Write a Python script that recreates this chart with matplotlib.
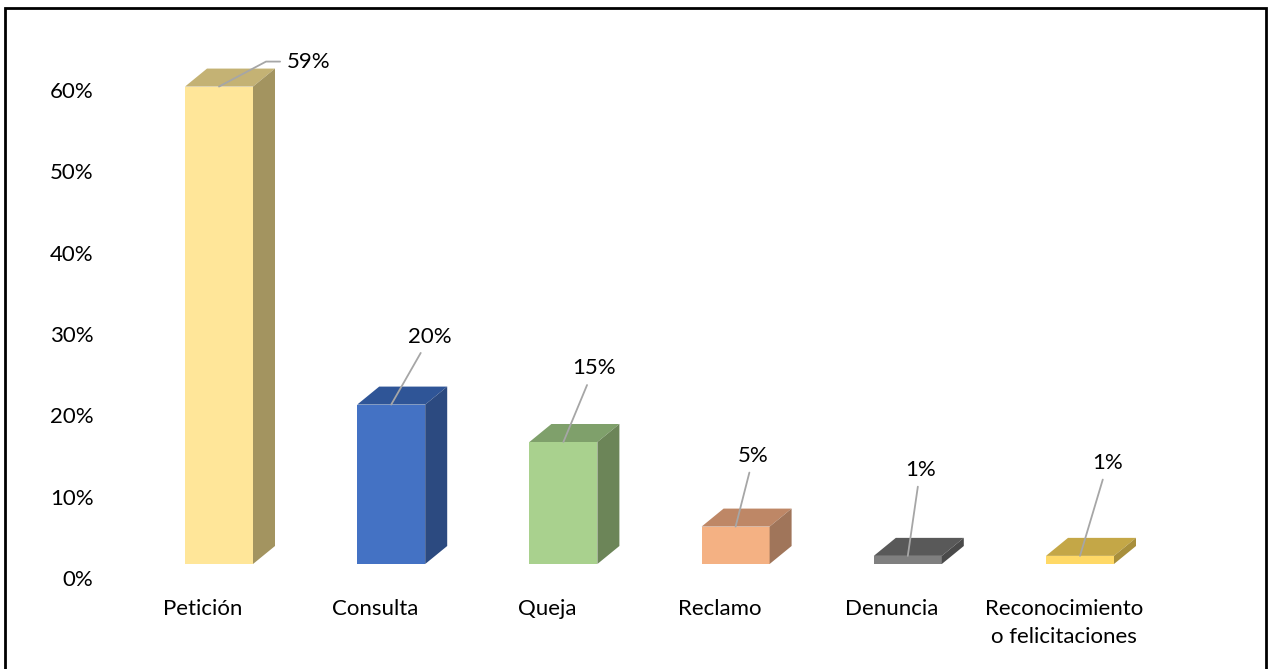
import numpy as np
import matplotlib.pyplot as plt
from matplotlib.patches import Polygon, Rectangle

plt.rcParams['font.family'] = ['Lato', 'DejaVu Sans']

# Data
categories = ['Petición', 'Consulta', 'Queja', 'Reclamo', 'Denuncia',
              'Reconocimiento\no felicitaciones']
values = [58.7, 19.6, 15.0, 4.6, 1.0, 1.0]

front_colors = ['#FFE699', '#4472C4', '#A9D18E', '#F4B183', '#7F7F7F', '#FFD966']
top_colors = ['#C4B274', '#2F5597', '#7FA06B', '#BE8766', '#595959', '#C4A747']
side_colors = ['#A39460', '#2C4A80', '#6C8558', '#A0755A', '#4A4A4A', '#A88F3C']

# label offsets from bar top (points)
label_offsets = [(49, 18), (28, 49), (22, 53), (13, 51), (9, 62), (20, 67)]

W, H = 1271, 669
fig = plt.figure(figsize=(W / 100, H / 100), dpi=100)

ax_left, ax_right = 110, 1210
ax_bottom, ax_top = 578, 40
ax = fig.add_axes([ax_left / W, 1 - ax_bottom / H,
                   (ax_right - ax_left) / W, (ax_bottom - ax_top) / H])

px_per_cat = 172.2
px_per_pct = 488 / 60
xmin = -(203 - ax_left) / px_per_cat
ax.set_xlim(xmin, xmin + (ax_right - ax_left) / px_per_cat)
ax.set_ylim(0, (ax_bottom - ax_top) / px_per_pct)

# 3D look
base = 14 / px_per_pct
off = 16 / px_per_cat
width = 68 / px_per_cat
dx = 22 / px_per_cat
dy = 18 / px_per_pct

x = np.arange(len(categories))
bars = ax.bar(x + off, values, width=width, bottom=base, color=front_colors, zorder=3)

for i, b in enumerate(bars):
    xl = b.get_x()
    xr = xl + b.get_width()
    top = base + values[i]
    ax.add_patch(Polygon([(xl, top), (xr, top), (xr + dx, top + dy), (xl + dx, top + dy)],
                         closed=True, facecolor=top_colors[i], edgecolor='none', zorder=3))
    ax.add_patch(Polygon([(xr, base), (xr + dx, base + dy), (xr + dx, top + dy), (xr, top)],
                         closed=True, facecolor=side_colors[i], edgecolor='none', zorder=3))
    ox, oy = label_offsets[i]
    if i == 0:
        arrow = dict(arrowstyle='-', color='#A6A6A6', lw=1.3, shrinkA=3, shrinkB=0,
                     relpos=(0, 0.5), connectionstyle='angle,angleA=0,angleB=28,rad=0')
        ha = 'left'
    else:
        arrow = dict(arrowstyle='-', color='#A6A6A6', lw=1.3, shrinkA=3, shrinkB=0)
        ha = 'center'
    ax.annotate(f'{values[i]:.0f}%', xy=(x[i] + off, top), xytext=(ox, oy),
                textcoords='offset points', ha=ha, va='center', fontsize=16,
                arrowprops=arrow, zorder=4)

ax.set_xticks(x)
ax.set_xticklabels(categories, fontsize=16, linespacing=1.5)
yt = np.arange(0, 61, 10)
ax.set_yticks(yt)
ax.set_yticklabels([f'{v}%' for v in yt], fontsize=16)
ax.tick_params(length=0)
ax.tick_params(axis='x', pad=15)
ax.tick_params(axis='y', pad=12)
for s in ax.spines.values():
    s.set_visible(False)

# outer frame
fig.add_artist(Rectangle((5 / W, -0.01), (1266 - 5) / W, 1 - 8 / H + 0.01,
                         transform=fig.transFigure, fill=False, edgecolor='black', lw=2))

fig.savefig('out.png', dpi=100)
